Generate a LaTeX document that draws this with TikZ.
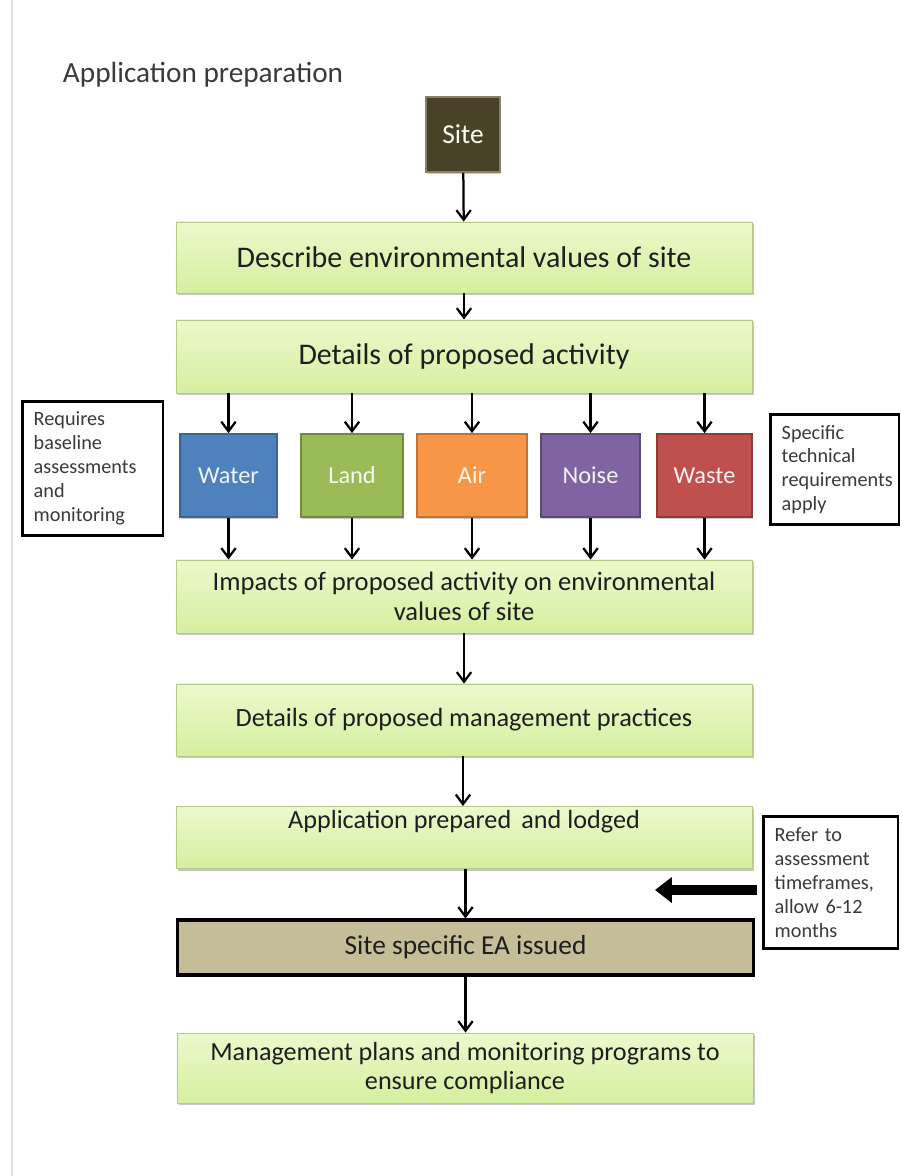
\documentclass[tikz,border=0pt]{standalone}
\usepackage{fontspec}
\setmainfont{Carlito}
\usepackage{xcolor}
\usetikzlibrary{arrows.meta,positioning,shadows}

\definecolor{stagetop}{HTML}{ECF9CC}
\definecolor{stagebot}{HTML}{D4EF9E}
\definecolor{stageline}{HTML}{B4CA8A}
\definecolor{sitefill}{HTML}{4A4129}
\definecolor{siteline}{HTML}{8A7F60}
\definecolor{eafill}{HTML}{C4BD97}
\definecolor{waterfill}{HTML}{4F81BD}
\definecolor{waterline}{HTML}{3A6596}
\definecolor{landfill}{HTML}{9BBB59}
\definecolor{landline}{HTML}{73893F}
\definecolor{airfill}{HTML}{F79646}
\definecolor{airline}{HTML}{C07236}
\definecolor{noisefill}{HTML}{8064A2}
\definecolor{noiseline}{HTML}{5E4A79}
\definecolor{wastefill}{HTML}{C0504D}
\definecolor{wasteline}{HTML}{8E3B39}
\definecolor{inktext}{HTML}{1E1E1E}
\definecolor{notetext}{HTML}{3A3A3A}

\begin{document}
\begin{tikzpicture}[
  x=0.025cm, y=-0.025cm,
  stage/.style={draw=stageline, line width=0.6pt, top color=stagetop, bottom color=stagebot,
    minimum width=14.4cm, align=center, text=inktext, inner sep=2pt,
    font=\fontsize{18.7}{21}\selectfont,
    drop shadow={shadow xshift=1.2pt, shadow yshift=-1.5pt, fill=black, opacity=0.22}},
  media/.style={draw=#1line, line width=1.2pt, fill=#1fill, minimum height=2.075cm,
    text=white!92!#1fill, font=\fontsize{17.3}{20}\selectfont,
    drop shadow={shadow xshift=1pt, shadow yshift=-1.2pt, fill=black, opacity=0.2}},
  note/.style={draw=black, line width=2.1pt, fill=white, align=left, text=notetext,
    inner xsep=8pt, font=\fontsize{14.4}{17}\selectfont, anchor=north west},
  flow/.style={-{Straight Barb[length=2.4mm,width=3.6mm]}, line width=1.6pt, black},
  fat/.style={-{Triangle[length=0.42cm,width=0.62cm]}, line width=7pt, black},
]
\useasboundingbox (0,0) rectangle (901,1176);
\draw[gray!25, line width=0.8pt] (12,0) -- (12,1176);

% heading
\node[anchor=west, text=notetext, font=\fontsize{20.8}{24}\selectfont] (title) at (58,75) {Application preparation};

% site
\node[draw=siteline, line width=1.2pt, fill=sitefill, minimum width=1.85cm, minimum height=1.875cm,
  text=white!94!yellow, font=\fontsize{19.5}{22}\selectfont,
  drop shadow={shadow xshift=1pt, shadow yshift=-1.2pt, fill=black, opacity=0.2}] (site) at (463,134.5) {Site};

% stages
\node[stage, minimum height=1.775cm, font=\fontsize{21.3}{24}\selectfont] (desc) at (464,257.5) {Describe environmental values of site};
\node[stage, minimum height=1.825cm, font=\fontsize{21.3}{24}\selectfont] (det) at (464,356.5) {Details of proposed activity};

% media
\node[media=water, minimum width=2.425cm] (water) at (228.5,475.5) {Water};
\node[media=land,  minimum width=2.55cm]  (land)  at (352,475.5) {Land};
\node[media=air,   minimum width=2.75cm]  (air)   at (472,475.5) {Air};
\node[media=noise, minimum width=2.475cm] (noise) at (590.5,475.5) {Noise};
\node[media=waste, minimum width=2.375cm] (waste) at (704.5,475.5) {Waste};

\node[stage, minimum height=1.825cm, font=\fontsize{18.9}{21.3}\selectfont] (imp) at (464,596.5) {Impacts of proposed activity on environmental\\values of site};
\node[stage, minimum height=1.8cm] (mgmt) at (464,720) {Details of proposed management practices};
\node[stage, minimum height=1.55cm, anchor=north, text depth=0.92cm, font=\fontsize{18.6}{21}\selectfont] (app) at (464,806) {Application prepared \,and lodged};
\node[draw=black, line width=2.2pt, fill=eafill, minimum width=14.375cm, minimum height=1.375cm,
  text=inktext, font=\fontsize{19.5}{22}\selectfont,
  drop shadow={shadow xshift=1pt, shadow yshift=-1.2pt, fill=black, opacity=0.2}] (ea) at (465.5,947.5) {Site specific EA issued};
\node[stage, minimum height=1.75cm, font=\fontsize{18.6}{21.3}\selectfont] (fin) at (465,1068) {Management plans and monitoring programs to\\ensure compliance};

% notes
\node[note, text width=2.95cm, minimum height=3.35cm] (base) at (21,400) {Requires\\baseline\\assessments\\and\\monitoring};
\node[note, text width=2.65cm, minimum height=2.75cm] (tech) at (769,413) {Specific\\technical\\requirements\\apply};
\node[note, text width=2.8cm, minimum height=3.3cm] (time) at (762,815) {Refer to\\assessment\\timeframes,\\allow 6-12\\months};

% connectors
\draw[flow] (site) -- (desc);
\draw[flow] (desc) -- (det);
\foreach \m in {water,land,air,noise,waste}{
  \draw[flow] (det.south -| \m.north) -- (\m.north);
  \draw[flow] (\m.south) -- (imp.north -| \m.south);
}
\draw[flow] (imp) -- (mgmt);
\draw[flow] (mgmt.south -| site) -- (app.north -| site);
\draw[flow] (app.south -| ea) -- (ea.north);
\draw[flow] (ea.south) -- (fin.north -| ea);
\coordinate (eatip) at (655,890);
\draw[fat] (time.west |- eatip) ++(-5,0) -- (eatip);

\end{tikzpicture}
\end{document}
